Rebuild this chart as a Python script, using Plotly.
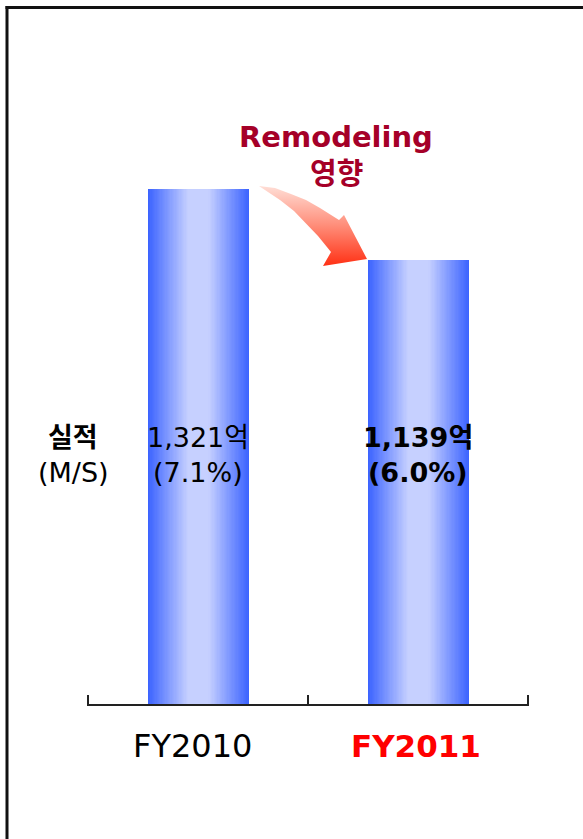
import plotly.graph_objects as go

# ---- data ----
categories = ["FY2010", "FY2011"]
sales = [1321, 1139]          # 실적 (억)
share = [7.1, 6.0]            # M/S (%)
label_colors = ["#000000", "#FF0000"]

W, H = 583, 839
BAR_WIDTH = 0.46
EDGE = (58, 98, 255)
CENTER = (198, 208, 255)
FONT = "DejaVu Sans, Noto Sans CJK KR, sans-serif"

# x axis spans the two category slots plus a hair, so the end ticks are kept
X_PAD = 0.006
X_LEFT_PX, X_RIGHT_PX = 88, 528
px_per_unit = (X_RIGHT_PX - X_LEFT_PX) / 2.0


def mix(c1, c2, f):
    return "rgb(%d,%d,%d)" % tuple(round(a + (b - a) * f) for a, b in zip(c1, c2))


positions = list(range(len(categories)))

fig = go.Figure()

# Bars with a horizontal light-centre gradient: overlaid bars of shrinking width
steps = 40
for k in range(steps):
    w = BAR_WIDTH * (1 - k / steps)
    t = 1 - (k + 0.5) / steps            # 1 at the edge, 0 at the centre
    f = max(0.0, min(1.0, (t - 0.2) / 0.8))
    fig.add_trace(go.Bar(
        x=positions, y=sales, width=w,
        marker=dict(color=mix(CENTER, EDGE, f), line=dict(width=0)),
        hoverinfo="skip", showlegend=False, xaxis="x", yaxis="y",
    ))

# Curved arrow between the bars (drawn on a full-figure pixel axis pair)
arrow_px = [(259, 186), (275, 188), (291, 194), (306, 200), (320, 208), (331, 215),
            (339, 220), (344, 215), (367, 259), (323, 266), (331, 252),
            (318, 236), (306, 223), (294, 211), (280, 200), (268, 192), (259, 186)]
fig.add_trace(go.Scatter(
    x=[p[0] for p in arrow_px], y=[H - p[1] for p in arrow_px],
    mode="lines", fill="toself", line=dict(width=0, color="rgba(0,0,0,0)"),
    fillgradient=dict(type="vertical",
                      colorscale=[[0, "rgb(255,48,20)"], [0.5, "rgb(255,140,120)"],
                                  [1, "rgb(255,222,214)"]]),
    hoverinfo="skip", showlegend=False, xaxis="x2", yaxis="y2",
))

annotations = []
# value labels inside the bars
for i, (v, s) in enumerate(zip(sales, share)):
    l1, l2 = f"{v:,}억", f"({s:.1f}%)"
    if i == 1:
        l1, l2 = f"<b>{l1}</b>", f"<b>{l2}</b>"
    for txt, py in ((l1, 437), (l2, 472)):
        annotations.append(dict(
            x=i, xref="x", y=1 - py / H, yref="paper", text=txt, showarrow=False,
            font=dict(family=FONT, size=27, color="#000000"),
            xanchor="center", yanchor="middle",
        ))
# category labels
for i, (c, col) in enumerate(zip(categories, label_colors)):
    annotations.append(dict(
        x=i, xref="x", y=1 - 746 / H, yref="paper",
        text=(f"<b>{c}</b>" if i == 1 else c), showarrow=False,
        font=dict(family=FONT, size=32 if i == 0 else 31, color=col),
        xanchor="center", yanchor="middle", xshift=-6 if i == 0 else -2,
    ))
# series caption on the left
for txt, py in (("<b>실적</b>", 437), ("(M/S)", 472)):
    annotations.append(dict(
        x=73 / W, xref="paper", y=1 - py / H, yref="paper",
        text=txt, showarrow=False,
        font=dict(family=FONT, size=27, color="#000000"),
        xanchor="center", yanchor="middle",
    ))
# note above the arrow
for txt, py in (("<b>Remodeling</b>", 137), ("<b>영향</b>", 174)):
    annotations.append(dict(
        x=336 / W, xref="paper", y=1 - py / H, yref="paper",
        text=txt, showarrow=False,
        font=dict(family=FONT, size=29, color="#A50028"),
        xanchor="center", yanchor="middle",
    ))

fig.update_layout(
    width=W, height=H,
    margin=dict(l=0, r=0, t=0, b=0),
    paper_bgcolor="white", plot_bgcolor="rgba(0,0,0,0)",
    barmode="overlay", bargap=0,
    xaxis=dict(
        domain=[(X_LEFT_PX - X_PAD * px_per_unit) / W, (X_RIGHT_PX + X_PAD * px_per_unit) / W],
        range=[-0.5 - X_PAD, 1.5 + X_PAD],
        tickmode="array", tickvals=[-0.5, 0.5, 1.5],
        showline=True, linecolor="#222222", linewidth=2,
        ticks="inside", ticklen=9, tickwidth=2, tickcolor="#222222",
        showticklabels=False, showgrid=False, zeroline=False, fixedrange=True,
        anchor="y",
    ),
    yaxis=dict(
        domain=[1 - 704 / H, 1 - 119.4 / H], range=[0, 1500],
        visible=False, showgrid=False, zeroline=False, fixedrange=True,
        anchor="x",
    ),
    xaxis2=dict(domain=[0, 1], range=[0, W], visible=False, anchor="y2", fixedrange=True),
    yaxis2=dict(domain=[0, 1], range=[0, H], visible=False, anchor="x2", fixedrange=True),
    annotations=annotations,
    shapes=[
        dict(type="line", xref="paper", yref="paper", x0=7 / W, x1=7 / W,
             y0=0, y1=1 - 6 / H, line=dict(color="#111111", width=3)),
        dict(type="line", xref="paper", yref="paper", x0=5.5 / W, x1=1,
             y0=1 - 7.5 / H, y1=1 - 7.5 / H, line=dict(color="#111111", width=3)),
    ],
)

fig.write_html("out.html")
